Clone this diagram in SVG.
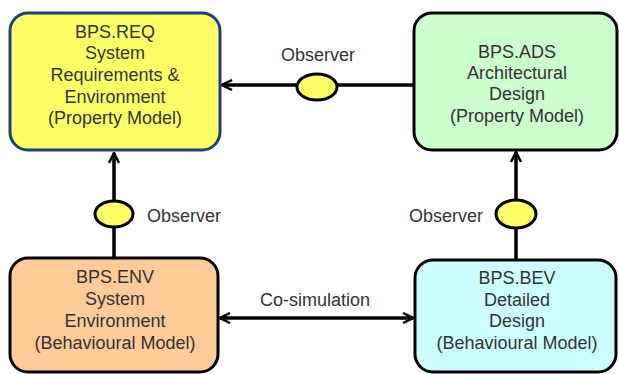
<svg xmlns="http://www.w3.org/2000/svg" width="619" height="374" viewBox="0 0 619 374">
<defs>
<style>
.box{stroke:#000;stroke-width:3}
.t{font-family:"Liberation Sans",Arial,sans-serif;font-size:18px;fill:#333;text-anchor:middle}
.lbl{font-family:"Liberation Sans",Arial,sans-serif;font-size:18px;fill:#333}
.c{stroke:#000;stroke-width:3.5;fill:none}
.obs{fill:#ffff66;stroke:#000;stroke-width:3}
</style>
<marker id="ah" viewBox="0 0 12 12" refX="11" refY="6" markerWidth="12" markerHeight="12" markerUnits="userSpaceOnUse" orient="auto-start-reverse">
<path d="M1,1 L11,6 L1,11" fill="none" stroke="#000" stroke-width="2.5"/>
</marker>
</defs>
<rect width="619" height="374" fill="#fff"/>
<g id="connectors">
<line class="c" x1="414" y1="85" x2="222" y2="85" marker-end="url(#ah)"/>
<ellipse class="obs" cx="317" cy="87" rx="20" ry="13"/>
<line class="c" x1="114" y1="258" x2="114" y2="153" marker-end="url(#ah)"/>
<ellipse class="obs" cx="114" cy="214" rx="19" ry="13"/>
<line class="c" x1="516" y1="260" x2="516" y2="152" marker-end="url(#ah)"/>
<ellipse class="obs" cx="516" cy="214" rx="20" ry="14"/>
<line class="c" x1="220" y1="318" x2="413" y2="318" marker-start="url(#ah)" marker-end="url(#ah)"/>
<text class="lbl" x="318" y="61" text-anchor="middle">Observer</text>
<text class="lbl" x="147" y="222">Observer</text>
<text class="lbl" x="483" y="222" text-anchor="end">Observer</text>
<text class="lbl" x="315" y="306" text-anchor="middle">Co-simulation</text>
</g>
<g id="req">
<rect x="10" y="13" width="210" height="137" rx="18" fill="#ffff66" stroke="#1f3f7f" stroke-width="3"/>
<text class="t" x="115" y="38">BPS.REQ</text>
<text class="t" x="115" y="59">System</text>
<text class="t" x="115" y="81">Requirements &amp;</text>
<text class="t" x="115" y="103">Environment</text>
<text class="t" x="115" y="124">(Property Model)</text>
</g>
<g id="ads">
<rect class="box" x="414" y="13" width="203" height="137" rx="18" fill="#ccffcc"/>
<text class="t" x="517" y="58">BPS.ADS</text>
<text class="t" x="517" y="79">Architectural</text>
<text class="t" x="517" y="100">Design</text>
<text class="t" x="517" y="122">(Property Model)</text>
</g>
<g id="env">
<rect class="box" x="10" y="258" width="208" height="114" rx="18" fill="#ffcc99"/>
<text class="t" x="115" y="283">BPS.ENV</text>
<text class="t" x="115" y="305">System</text>
<text class="t" x="115" y="327">Environment</text>
<text class="t" x="115" y="349">(Behavioural Model)</text>
</g>
<g id="bev">
<rect class="box" x="415" y="260" width="201" height="112" rx="18" fill="#ccffff"/>
<text class="t" x="517" y="284">BPS.BEV</text>
<text class="t" x="517" y="306">Detailed</text>
<text class="t" x="517" y="327">Design</text>
<text class="t" x="517" y="349">(Behavioural Model)</text>
</g>
</svg>
